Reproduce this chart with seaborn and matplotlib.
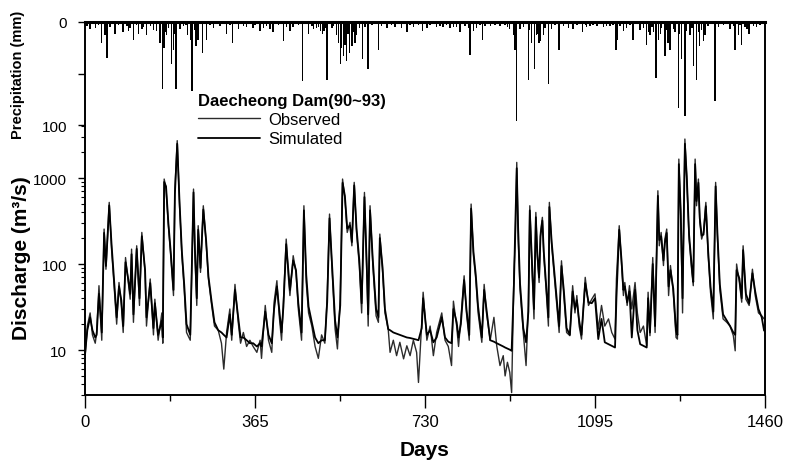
import matplotlib
matplotlib.use("Agg")
import matplotlib.pyplot as plt
import pandas as pd
import seaborn as sns

d1 = [0, 5, 11, 16, 22, 25, 30, 36, 41, 45, 52, 57, 62, 68, 73, 78, 82, 87, 93, 97,
      100, 104, 111, 117, 122, 129, 132, 140, 147, 150, 157, 165, 167, 170, 174, 179, 184, 190, 193, 198,
      203, 208, 213, 218, 226, 233, 236, 240, 243, 248, 254, 260, 265, 272, 278, 286, 293, 298, 304, 311,
      315, 322, 329, 334, 340, 347, 354]
o1 = [8, 19, 27, 15, 12, 16, 56, 13, 255, 87, 521, 149, 61, 20, 61, 33, 16, 119, 61, 39,
      149, 21, 163, 33, 233, 80, 19, 67, 15, 39, 13, 27, 12, 973, 744, 279, 125, 43, 744, 2720,
      476, 125, 51, 16, 13, 744, 125, 33, 279, 80, 476, 178, 67, 33, 19, 17, 12, 6, 16, 30,
      13, 58, 21, 12, 16, 11, 13]
s1 = [9, 17, 24, 17, 14, 15, 45, 16, 230, 95, 480, 170, 70, 24, 55, 38, 19, 105, 66, 45,
      130, 26, 150, 40, 210, 85, 24, 60, 18, 35, 15, 22, 14, 900, 800, 300, 140, 50, 650, 2500,
      520, 140, 58, 20, 15, 680, 150, 40, 250, 90, 430, 190, 72, 36, 21, 17, 16, 15, 14, 26,
      15, 50, 24, 14, 14, 13, 12]

d2 = [361, 369, 376, 379, 387, 394, 401, 406, 412, 417, 422, 426, 432, 437, 440, 447, 453, 458, 465, 470,
      475, 480, 487, 494, 501, 508, 515, 520, 525, 530, 537, 542, 548, 553, 558, 563, 569, 573, 578, 583,
      589, 594, 600, 605, 608, 612, 618, 625, 630, 633, 639, 644, 651, 655, 662, 669, 676, 684, 691, 698,
      705, 712, 716, 723, 726]
o2 = [11, 9.4, 13, 8, 33, 13, 9.4, 36, 64, 25, 13, 36, 195, 67, 43, 125, 80, 30, 13, 476,
      61, 27, 19, 11, 8, 15, 12, 43, 381, 96, 17.5, 10.3, 39, 973, 569, 233, 305, 163, 890, 233,
      96, 27, 680, 80, 19, 476, 96, 25, 21, 223, 80, 27, 17.5, 9.4, 13, 8.6, 12.3, 7.9, 11.2, 8.6,
      13, 9.4, 4.2, 21, 47]
s2 = [12, 11, 12, 11, 28, 15, 12, 30, 55, 30, 16, 32, 170, 80, 50, 110, 85, 35, 16, 420,
      75, 32, 21, 14, 12, 13, 13, 36, 340, 110, 22, 14, 33, 880, 620, 260, 280, 180, 820, 260,
      110, 35, 600, 95, 26, 420, 110, 30, 24, 200, 90, 30, 17.5, 17, 16, 15.5, 15, 14.5, 14, 13.8,
      13.5, 13.2, 13, 18, 40]

d3 = [734, 741, 748, 755, 766, 773, 780, 787, 791, 798, 802, 807, 814, 819, 825, 829, 834, 839, 844, 852,
      857, 862, 870, 878, 884, 891, 898, 902, 907, 912, 916, 921, 924, 927, 930, 934, 941, 947, 952, 955,
      960, 964, 968, 971, 975, 978, 982, 985, 990, 995, 997, 1002, 1007, 1013, 1018, 1023, 1028, 1034, 1041, 1047,
      1052, 1056, 1061, 1066, 1074, 1081, 1088]
o3 = [13, 19, 8.6, 16, 27, 13, 11, 6.6, 37, 19, 11, 23, 73, 27, 13, 498, 125, 67, 27, 12.3,
      58, 27, 13, 24, 11.2, 6.6, 8.6, 5, 7.2, 5.5, 3.2, 80, 195, 1520, 195, 51, 16, 6.6, 33, 476,
      80, 23, 398, 125, 61, 233, 349, 125, 51, 19, 521, 163, 80, 33, 16, 109, 43, 16, 14.7, 56,
      27, 43, 19, 13.4, 70, 33, 39]
s3 = [15, 17, 12.3, 14, 24, 14, 12.5, 12, 30, 21, 14, 20, 65, 30, 15, 440, 140, 75, 32, 14,
      50, 30, 13, 12.5, 12, 11.5, 11, 10.7, 10.4, 10.1, 9.8, 60, 300, 1300, 260, 60, 18, 12.3, 28, 420,
      95, 30, 350, 140, 70, 210, 320, 140, 58, 24, 460, 180, 90, 38, 19, 95, 50, 18, 15, 48,
      30, 38, 22, 15, 60, 36, 35]

d4 = [1095, 1102, 1109, 1116, 1124, 1131, 1138, 1141, 1147, 1152, 1156, 1159, 1164, 1169, 1174, 1181, 1186, 1192, 1199, 1206,
      1209, 1213, 1219, 1224, 1230, 1233, 1237, 1242, 1245, 1249, 1253, 1257, 1263, 1269, 1272, 1275, 1279, 1283, 1288, 1292,
      1297, 1303, 1306, 1310, 1313, 1317, 1320, 1324, 1328, 1333, 1338, 1343, 1349, 1354, 1358, 1363, 1370, 1378, 1385, 1392,
      1396, 1399, 1405, 1410, 1413, 1419, 1426, 1433, 1439, 1446, 1453, 1458, 1460]
o4 = [45, 17.5, 33, 19, 23, 16, 13.4, 67, 279, 96, 43, 61, 33, 56, 30, 61, 27, 16, 19, 11.2,
      47, 14.7, 119, 16, 711, 163, 233, 96, 195, 255, 43, 96, 47, 14, 13.4, 1660, 365, 27, 2840, 973,
      195, 80, 56, 1660, 476, 973, 305, 195, 233, 521, 125, 47, 23, 890, 195, 51, 23, 21, 19, 14.7,
      9.8, 100, 61, 36, 163, 39, 33, 87, 43, 27, 25, 23, 23]
s4 = [40, 13.4, 23, 12.3, 11.7, 11.2, 10.7, 40, 250, 110, 50, 55, 36, 48, 14, 50, 17, 11.7, 11.2, 10.7,
      40, 16, 100, 19, 620, 190, 210, 110, 175, 230, 55, 85, 52, 17, 15, 1450, 420, 40, 2500, 1050,
      220, 90, 62, 1450, 540, 880, 340, 215, 220, 470, 140, 55, 28, 800, 220, 58, 26, 22, 19, 16,
      15, 85, 68, 40, 145, 45, 35, 78, 48, 30, 24, 16.8, 17]

# daily precipitation (mm): the larger storms
rain_day = [11, 22, 36, 43, 47, 64, 82, 93, 104, 115, 122, 132, 154, 161, 166, 170, 175, 186, 190, 195,
            204, 220, 226, 230, 238, 243, 252, 261, 276, 304, 317, 329, 347, 361,
            376, 383, 397, 404, 426, 440, 447, 467, 480, 490, 497, 505, 510, 513, 520, 530,
            540, 544, 548, 551, 555, 558, 562, 568, 573, 580, 583, 596, 608, 630, 648, 666, 680, 691, 705, 724,
            734, 755, 769, 784, 791, 805, 827, 834, 841, 854, 870, 891, 907, 912, 920, 923, 927, 934,
            952, 959, 965, 970, 975, 978, 984, 995, 1002, 1018, 1038, 1048, 1068, 1077, 1084,
            1099, 1113, 1127, 1140, 1143, 1156, 1163, 1177, 1206, 1213, 1220, 1226, 1231, 1235, 1245,
            1252, 1256, 1263, 1274, 1281, 1288, 1299, 1306, 1313, 1320, 1328, 1331, 1353, 1360, 1385,
            1396, 1403, 1410, 1421, 1426, 1442]
rain_mm = [7, 6, 20, 13, 35, 12, 10, 9, 17, 12, 7, 13, 9, 20, 65, 25, 13, 41, 27, 65,
           7, 13, 17, 67, 23, 17, 30, 17, 6, 12, 20, 7, 5, 6,
           9, 6, 7, 10, 18, 9, 5, 57, 12, 7, 6, 9, 12, 9, 56, 6,
           13, 20, 41, 25, 33, 22, 38, 30, 23, 20, 13, 36, 46, 27, 6, 5, 6, 10, 5, 9,
           6, 5, 5, 6, 5, 10, 32, 9, 6, 17, 4, 4, 5, 7, 13, 27, 96, 7,
           56, 20, 46, 13, 20, 18, 13, 60, 7, 27, 6, 7, 10, 5, 4,
           4, 5, 4, 27, 17, 9, 6, 17, 22, 13, 10, 54, 17, 12, 33,
           20, 27, 7, 83, 36, 91, 13, 43, 56, 23, 18, 13, 77, 5, 7,
           27, 13, 22, 7, 12, 5]
# light rain days along the top
drizzle_day = [4, 29, 54, 72, 90, 97, 111, 125, 140, 147, 174, 179, 193, 211, 217, 236, 268, 290, 311, 340,
               365, 390, 415, 433, 458, 487, 501, 515, 533, 565, 576, 590, 601, 616, 637, 658, 698, 716,
               741, 762, 776, 798, 816, 823, 848, 859, 880, 902, 941, 955, 973, 988, 1009, 1027, 1056, 1074,
               1091, 1120, 1134, 1149, 1170, 1192, 1199, 1210, 1217, 1238, 1249, 1267, 1277, 1292, 1303,
               1317, 1324, 1338, 1371, 1392, 1406, 1417, 1435, 1449]
drizzle_mm = [4, 3, 5, 3, 4, 6, 3, 5, 4, 8, 10, 6, 12, 4, 3, 8, 3, 4, 3, 4,
              3, 4, 3, 5, 3, 4, 5, 6, 4, 12, 10, 6, 5, 3, 4, 3, 3, 3,
              3, 4, 3, 5, 4, 6, 3, 4, 3, 3, 5, 8, 12, 6, 3, 4, 3, 3,
              3, 4, 3, 4, 3, 8, 6, 10, 5, 6, 8, 10, 12, 9, 6,
              10, 8, 4, 3, 4, 3, 5, 4, 3]

days = d1 + d2 + d3 + d4
observed = o1 + o2 + o3 + o4
simulated = s1 + s2 + s3 + s4
flow = pd.DataFrame({"day": days, "Observed": observed, "Simulated": simulated})

sns.set_theme(style="ticks", rc={"axes.edgecolor": "black", "text.color": "black",
                                 "xtick.color": "black", "ytick.color": "black",
                                 "axes.linewidth": 1.2})
plt.rcParams["font.family"] = ["Liberation Sans", "DejaVu Sans"]

fig = plt.figure(figsize=(7.91, 4.64), dpi=100)
ax = fig.add_axes([85 / 791, 1 - 396 / 464, 680 / 791, 373 / 464])

sns.lineplot(data=flow, x="day", y="Observed", ax=ax, color="#2b2b2b", lw=1.0,
             label="Observed", estimator=None)
sns.lineplot(data=flow, x="day", y="Simulated", ax=ax, color="black", lw=1.3,
             label="Simulated", estimator=None)
ax.set_yscale("log")
ax.set_ylim(3, 65200)
ax.set_xlim(0, 1460)
ax.set_xlabel("")
ax.set_ylabel("")

ax.set_xticks([0, 365, 730, 1095, 1460])
ax.set_xticks([182.5, 547.5, 912.5, 1277.5], minor=True)
ax.set_xticklabels(["0", "365", "730", "1095", "1460"], fontsize=12)
ax.set_yticks([10, 100, 1000])
ax.set_yticklabels(["10", "100", "1000"], fontsize=11)
minor_q = [3, 4, 5, 6, 7, 8, 9, 20, 30, 40, 50, 60, 70, 80, 90,
           200, 300, 400, 500, 600, 700, 800, 900, 2000, 3000, 4000]
ax.set_yticks(minor_q, minor=True)
ax.yaxis.set_minor_formatter(plt.NullFormatter())
ax.tick_params(axis="x", which="major", length=9, width=1, pad=5)
ax.tick_params(axis="x", which="minor", length=4.5, width=1)
ax.tick_params(axis="y", which="major", length=5, width=1, pad=8)
ax.tick_params(axis="y", which="minor", length=3, width=0.8)

handles, labels = ax.get_legend_handles_labels()
ax.get_legend().remove()

# precipitation hangs from the top on its own inverted scale
ax2 = ax.twinx()
ax2.bar(rain_day + drizzle_day, rain_mm + drizzle_mm, width=3, color="black", linewidth=0)
ax2.set_ylim(362, 0)
ax2.yaxis.tick_left()
ax2.set_yticks([0, 100])
ax2.set_yticklabels(["0", "100"], fontsize=11)
ax2.set_yticks([50], minor=True)
ax2.tick_params(axis="y", which="major", length=5, width=1, pad=8)
ax2.tick_params(axis="y", which="minor", length=5, width=1)
ax2.spines["top"].set_linewidth(2.2)

leg = ax2.legend(handles, labels, title="Daecheong Dam(90~93)", loc="upper left",
                 bbox_to_anchor=(198 / 791, 1 - 94 / 464), bbox_transform=fig.transFigure,
                 frameon=False, fontsize=12, title_fontproperties={"size": 12, "weight": "bold"},
                 alignment="left", borderpad=0, borderaxespad=0, handlelength=3.7,
                 handletextpad=0.5, labelspacing=0.25)

fig.text(22 / 791, 1 - 258 / 464, "Discharge (m³/s)", rotation=90, ha="center", va="center",
         fontsize=15, fontweight="bold")
fig.text(18 / 791, 1 - 75 / 464, "Precipitation (mm)", rotation=90, ha="center", va="center",
         fontsize=10.5, fontweight="bold")
fig.text(425 / 791, 1 - 451 / 464, "Days", ha="center", va="center",
         fontsize=15, fontweight="bold")

fig.savefig("out.png", dpi=100)
